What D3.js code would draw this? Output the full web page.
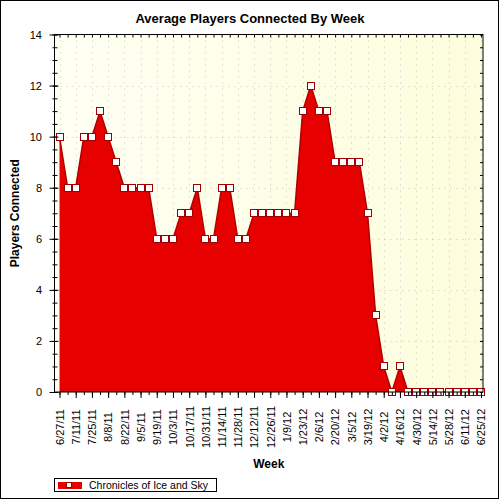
<!DOCTYPE html>
<html>
<head>
<meta charset="utf-8">
<script src="https://cdn.jsdelivr.net/npm/d3@7.9.0/dist/d3.min.js"></script>
<style>
  body { margin: 0; background: #fff; }
  svg { display: block; font-family: Arial, "Liberation Sans", sans-serif; }
</style>
</head>
<body>
<svg id="chart" width="500" height="500"></svg>
<script>
const weeks = [
  '6/27/11', '7/4/11', '7/11/11', '7/18/11', '7/25/11', '8/1/11', '8/8/11', '8/15/11',
  '8/22/11', '8/29/11', '9/5/11', '9/12/11', '9/19/11', '9/26/11', '10/3/11', '10/10/11',
  '10/17/11', '10/24/11', '10/31/11', '11/7/11', '11/14/11', '11/21/11', '11/28/11', '12/5/11',
  '12/12/11', '12/19/11', '12/26/11', '1/2/12', '1/9/12', '1/16/12', '1/23/12', '1/30/12',
  '2/6/12', '2/13/12', '2/20/12', '2/27/12', '3/5/12', '3/12/12', '3/19/12', '3/26/12',
  '4/2/12', '4/9/12', '4/16/12', '4/23/12', '4/30/12', '5/7/12', '5/14/12', '5/21/12',
  '5/28/12', '6/4/12', '6/11/12', '6/18/12', '6/25/12'
];

const players = [
  10, 8, 8, 10, 10, 11, 10, 9, 8, 8,
  8, 8, 6, 6, 6, 7, 7, 8, 6, 6,
  8, 8, 6, 6, 7, 7, 7, 7, 7, 7,
  11, 12, 11, 11, 9, 9, 9, 9, 7, 3,
  1, 0, 1, 0, 0, 0, 0, 0, 0, 0,
  0, 0, 0
];

const weekLabels = [
  '6/27/11', '7/11/11', '7/25/11', '8/8/11', '8/22/11', '9/5/11', '9/19/11', '10/3/11',
  '10/17/11', '10/31/11', '11/14/11', '11/28/11', '12/12/11', '12/26/11', '1/9/12', '1/23/12',
  '2/6/12', '2/20/12', '3/5/12', '3/19/12', '4/2/12', '4/16/12', '4/30/12', '5/14/12',
  '5/28/12', '6/11/12', '6/25/12'
];

const yTicks = [0, 2, 4, 6, 8, 10, 12, 14];
const seriesName = 'Chronicles of Ice and Sky';

const data = weeks.map((w, i) => ({ week: w, value: players[i] }));

const svg = d3.select('#chart');
const plot = { left: 54.5, top: 34.5, right: 483, bottom: 392 };

const x = d3.scalePoint().domain(weeks).range([59.5, 481]);
const y = d3.scaleLinear().domain([0, 14]).range([plot.bottom, plot.top]);

// outer border
svg.append('rect')
  .attr('x', 0.5).attr('y', 0.5).attr('width', 498).attr('height', 498)
  .attr('fill', '#fff').attr('stroke', '#000');

// plot background
const grad = svg.append('defs').append('linearGradient')
  .attr('id', 'bg').attr('x1', 0).attr('y1', 0).attr('x2', 1).attr('y2', 0);
grad.append('stop').attr('offset', 0).attr('stop-color', '#fffff3');
grad.append('stop').attr('offset', 1).attr('stop-color', '#fdfddd');

svg.append('rect')
  .attr('x', plot.left).attr('y', plot.top)
  .attr('width', plot.right - plot.left).attr('height', plot.bottom - plot.top)
  .attr('fill', 'url(#bg)');

// dotted grid
const grid = svg.append('g')
  .attr('stroke', '#c8c8c8').attr('stroke-dasharray', '1,5');
grid.selectAll('line.h').data(yTicks.filter((d) => d > 0 && d < 14)).join('line')
  .attr('x1', plot.left).attr('x2', plot.right)
  .attr('y1', (d) => Math.round(y(d)) + 0.5).attr('y2', (d) => Math.round(y(d)) + 0.5);
grid.selectAll('line.v').data(weekLabels).join('line')
  .attr('x1', (d) => Math.round(x(d)) + 0.5).attr('x2', (d) => Math.round(x(d)) + 0.5)
  .attr('y1', plot.top).attr('y2', plot.bottom);

// area
const area = d3.area()
  .x((d) => x(d.week))
  .y0(y(0))
  .y1((d) => y(d.value));

const line = d3.line()
  .x((d) => x(d.week))
  .y((d) => y(d.value));

svg.append('path')
  .datum(data)
  .attr('d', area)
  .attr('fill', '#e70000');

svg.append('path')
  .datum(data)
  .attr('d', line)
  .attr('fill', 'none')
  .attr('stroke', '#b00000')
  .attr('stroke-width', 1.5);

// markers
svg.append('g').selectAll('rect').data(data).join('rect')
  .attr('x', (d) => Math.round(x(d.week)) - 3.5)
  .attr('y', (d) => Math.round(y(d.value)) - 3.5)
  .attr('width', 7).attr('height', 7)
  .attr('fill', '#fff')
  .attr('stroke', '#a00000')
  .attr('stroke-width', 1);

// frame
svg.append('rect')
  .attr('x', plot.left).attr('y', plot.top)
  .attr('width', plot.right - plot.left).attr('height', plot.bottom - plot.top)
  .attr('fill', 'none').attr('stroke', '#000');

// x axes
const xMinor = svg.append('g')
  .attr('transform', `translate(0,${plot.bottom})`)
  .call(d3.axisBottom(x).tickSize(3).tickFormat(''));
xMinor.select('.domain').remove();

const xMajor = svg.append('g')
  .attr('transform', `translate(0,${plot.bottom})`)
  .call(d3.axisBottom(x).tickValues(weekLabels).tickSize(6));
xMajor.select('.domain').remove();
xMajor.selectAll('text')
  .attr('transform', 'rotate(-90)')
  .attr('x', -35).attr('y', 0).attr('dy', '0.35em')
  .attr('text-anchor', 'middle')
  .attr('font-size', 11)
  .attr('font-family', 'Arial, "Liberation Sans", sans-serif')
  .attr('fill', '#000');

const xTop = svg.append('g')
  .attr('transform', `translate(0,${plot.top})`)
  .call(d3.axisBottom(x).tickSize(3).tickFormat(''));
xTop.select('.domain').remove();

// y axes
const yMinorVals = d3.range(0, 14.01, 0.5);
const yMinor = svg.append('g')
  .attr('transform', `translate(${plot.left + 3},0)`)
  .call(d3.axisLeft(y).tickValues(yMinorVals).tickSize(5).tickFormat(''));
yMinor.select('.domain').remove();

const yMajor = svg.append('g')
  .attr('transform', `translate(${plot.left + 4},0)`)
  .call(d3.axisLeft(y).tickValues(yTicks).tickSize(9));
yMajor.select('.domain').remove();
yMajor.selectAll('text')
  .attr('x', 42 - plot.left - 4)
  .attr('font-size', 11)
  .attr('font-family', 'Arial, "Liberation Sans", sans-serif')
  .attr('fill', '#000');

const yRight = svg.append('g')
  .attr('transform', `translate(${plot.right},0)`)
  .call(d3.axisRight(y).tickValues(yMinorVals).tickSize(-3).tickFormat(''));
yRight.select('.domain').remove();

// titles
svg.append('text')
  .attr('x', 250).attr('y', 23)
  .attr('text-anchor', 'middle')
  .attr('font-weight', 'bold').attr('font-size', 13)
  .text('Average Players Connected By Week');

svg.append('text')
  .attr('transform', `translate(18.5,${(plot.top + plot.bottom) / 2}) rotate(-90)`)
  .attr('text-anchor', 'middle')
  .attr('font-weight', 'bold').attr('font-size', 12)
  .text('Players Connected');

svg.append('text')
  .attr('x', (plot.left + plot.right) / 2).attr('y', 468)
  .attr('text-anchor', 'middle')
  .attr('font-weight', 'bold').attr('font-size', 12)
  .text('Week');

// legend
const legend = svg.append('g');
legend.append('rect')
  .attr('x', 54.5).attr('y', 478.5).attr('width', 162).attr('height', 13)
  .attr('fill', '#fff').attr('stroke', '#000');
legend.append('rect')
  .attr('x', 58).attr('y', 482).attr('width', 24).attr('height', 7)
  .attr('fill', '#e70000');
legend.append('rect')
  .attr('x', 66.5).attr('y', 482.5).attr('width', 5).attr('height', 5)
  .attr('fill', '#fff').attr('stroke', '#a00000');
legend.append('text')
  .attr('x', 89).attr('y', 488.5)
  .attr('font-size', 10.5)
  .text(seriesName);
</script>
</body>
</html>
